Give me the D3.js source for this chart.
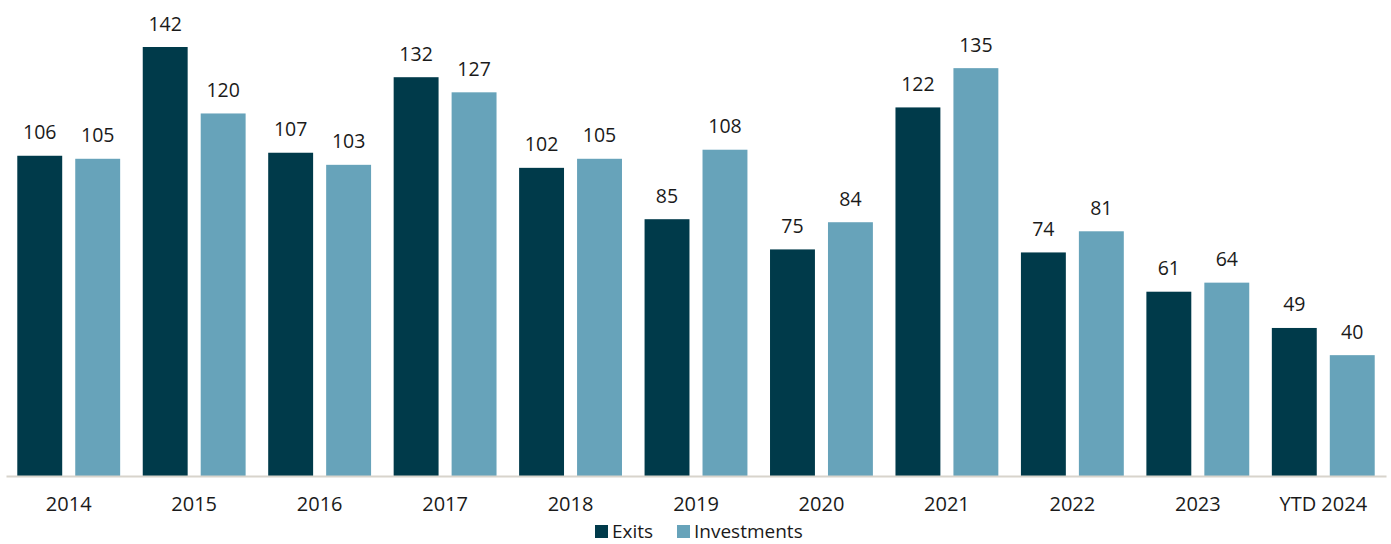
<!DOCTYPE html>
<html>
<head>
<meta charset="utf-8">
<script src="https://cdn.jsdelivr.net/npm/d3@7"></script>
<style>
  body { margin: 0; background: #fff; }
  svg { display: block; font-family: "Open Sans", Lato, sans-serif; }
</style>
</head>
<body>
<div id="chart"></div>
<script>
// Data
const categories = ['2014', '2015', '2016', '2017', '2018', '2019', '2020', '2021', '2022', '2023', 'YTD 2024'];
const exits = [106, 142, 107, 132, 102, 85, 75, 122, 74, 61, 49];
const investments = [105, 120, 103, 127, 105, 108, 84, 135, 81, 64, 40];
const seriesNames = ['Exits', 'Investments'];
const colors = ['#003a4a', '#67a3ba'];

const width = 1391, height = 544;
const margin = { top: 0, right: 5, bottom: 68, left: 6 };
const baseline = 476;
const font = '"Open Sans", Lato, sans-serif';

const svg = d3.select('#chart').append('svg')
    .attr('width', width)
    .attr('height', height);

const x0 = d3.scaleBand()
    .domain(categories)
    .range([margin.left, width - margin.right])
    .paddingInner(0.18)
    .paddingOuter(0.09);

const x1 = d3.scaleBand()
    .domain(seriesNames)
    .range([0, x0.bandwidth()])
    .paddingInner(0.225);

const y = d3.scaleLinear()
    .domain([0, 142])
    .range([baseline, 47]);

const rows = categories.map((c, i) => ({ cat: c, values: [exits[i], investments[i]] }));

const groups = svg.append('g').selectAll('g')
    .data(rows)
    .enter().append('g')
    .attr('transform', d => `translate(${x0(d.cat)},0)`);

groups.selectAll('rect')
    .data(d => d.values.map((v, k) => ({ name: seriesNames[k], value: v, k })))
    .enter().append('rect')
    .attr('x', d => x1(d.name))
    .attr('width', x1.bandwidth())
    .attr('y', d => y(d.value))
    .attr('height', d => baseline - y(d.value))
    .style('fill', d => colors[d.k]);

// Value labels
groups.selectAll('text')
    .data(d => d.values.map((v, k) => ({ name: seriesNames[k], value: v })))
    .enter().append('text')
    .attr('x', d => x1(d.name) + x1.bandwidth() / 2)
    .attr('y', d => y(d.value) - 16.5)
    .attr('text-anchor', 'middle')
    .style('font-size', '19.5px')
    .style('fill', '#1a1a1a')
    .text(d => d.value);

// Axis
const xAxis = d3.axisBottom(x0).tickSize(0).tickPadding(21);
const axisG = svg.append('g')
    .attr('transform', `translate(0,${baseline})`)
    .call(xAxis);
axisG.select('.domain').attr('stroke', '#d8d4cc').attr('stroke-width', 2);
axisG.selectAll('text')
    .style('font-size', '20px')
    .style('font-family', font)
    .style('fill', '#1a1a1a');

// Legend
const legend = svg.append('g').attr('transform', 'translate(595,525)');
const legendX = [0, 82];
seriesNames.forEach((name, i) => {
    const item = legend.append('g').attr('transform', `translate(${legendX[i]},0)`);
    item.append('rect')
        .attr('x', 0).attr('y', 0)
        .attr('width', 13).attr('height', 13)
        .style('fill', colors[i]);
    item.append('text')
        .attr('x', 17).attr('y', 13)
        .style('font-size', '19px')
        .style('fill', '#1a1a1a')
        .text(name);
});
</script>
</body>
</html>
